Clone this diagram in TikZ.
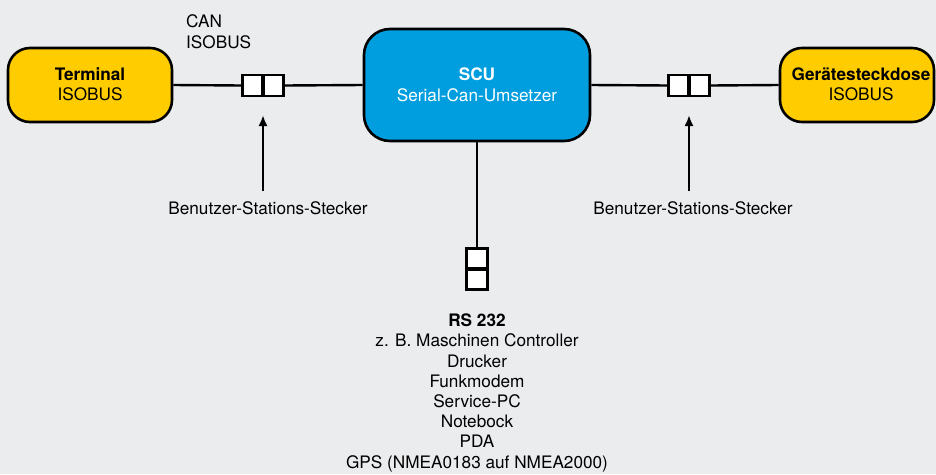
\documentclass[tikz,border=0pt]{standalone}
\usepackage{fontspec}
\setmainfont{TeX Gyre Heros}
\usetikzlibrary{arrows.meta}
\definecolor{bg}{HTML}{EBECEE}
\definecolor{ylw}{HTML}{FFCC00}
\definecolor{blu}{HTML}{009EDF}
\begin{document}
\begin{tikzpicture}[x=1pt,y=-1pt,
  txt/.style={font=\fontsize{17.2}{20.2}\selectfont, align=center, inner sep=0pt},
  bx/.style={draw=black, line width=2.6pt, rounded corners=22pt, inner sep=0pt},
  plug/.style={draw=black, fill=white, line width=2.4pt, minimum width=20pt, minimum height=21pt, inner sep=0pt},
  wire/.style={line width=2.4pt},
  arr/.style={line width=2.4pt, -{Latex[length=11pt,width=9pt]}}]
\fill[bg] (0,0) rectangle (936,474);
\useasboundingbox (0,0) rectangle (936,474);
% boxes
\node[bx, fill=ylw, minimum width=164pt, minimum height=74pt] (term) at (90,85) {};
\node[txt, anchor=base] (termt) at (90,100.5) {\textbf{Terminal}\\ISOBUS};
\node[bx, fill=blu, minimum width=226pt, minimum height=112pt, rounded corners=26pt] (scu) at (477,85) {};
\node[txt, text=white, anchor=base] (scut) at (477,101) {\textbf{SCU}\\Serial-Can-Umsetzer};
\node[bx, fill=ylw, minimum width=154pt, minimum height=74pt] (geraet) at (857,85) {};
\node[txt, anchor=base] (geraett) at (861,100.5) {\textbf{Gerätesteckdose}\\ISOBUS};
% plugs
\node[plug] (pl1) at (252.5,85.5) {};
\node[plug] (pl2) at (273.5,85.5) {};
\node[plug] (pr1) at (678.5,85.5) {};
\node[plug] (pr2) at (699.5,85.5) {};
\node[plug, minimum width=21pt, minimum height=20pt] (pb1) at (477,258.5) {};
\node[plug, minimum width=21pt, minimum height=20pt] (pb2) at (477,279.5) {};
% wires
\draw[wire] (term.east) -- (pl1.west);
\draw[wire] (pl2.east) -- (scu.west);
\draw[wire] (scu.east) -- (pr1.west);
\draw[wire] (pr2.east) -- (geraet.west);
\draw[wire] (scu.south) -- (pb1.north);
% labels
\node[txt, align=left, anchor=base west] (can) at (186,48) {CAN\\ISOBUS};
\coordinate (al) at (263,191);
\coordinate (ar) at (689,191);
\draw[arr] (al) -- (263,115);
\draw[arr] (ar) -- (689,115);
\node[txt, anchor=base] (bl) at (268,214) {Benutzer-Stations-Stecker};
\node[txt, anchor=base] (br) at (693,214) {Benutzer-Stations-Stecker};
\node[txt, anchor=base] (rs) at (477,468) {\textbf{RS 232}\\z. B. Maschinen Controller\\Drucker\\Funkmodem\\Service-PC\\Notebock\\PDA\\GPS (NMEA0183 auf NMEA2000)};
\end{tikzpicture}
\end{document}
